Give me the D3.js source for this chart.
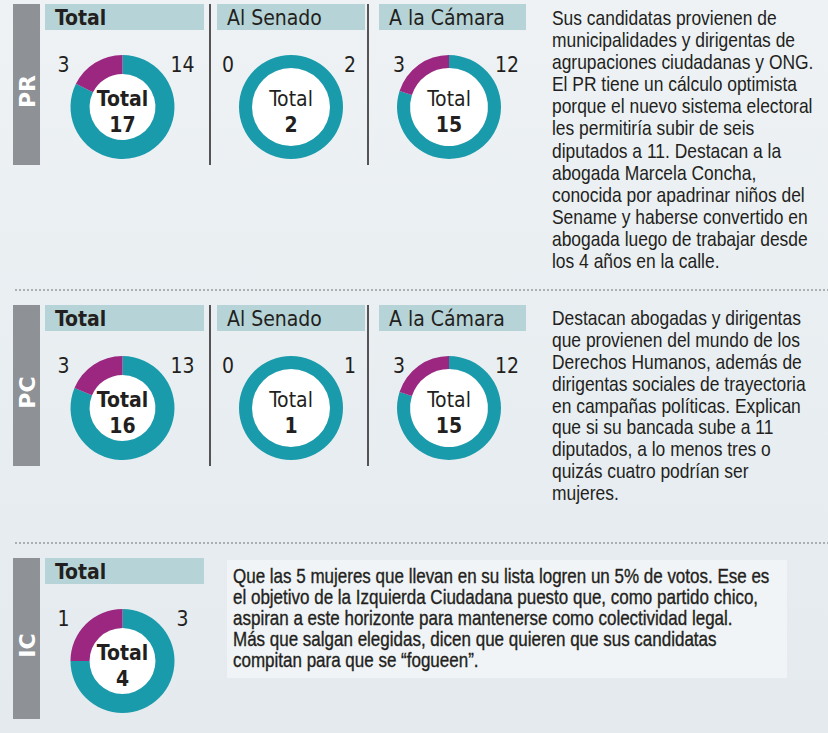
<!DOCTYPE html>
<html>
<head>
  <meta charset="utf-8">
  <title>Candidatas por partido</title>
  <script src="https://d3js.org/d3.v7.min.js"></script>
  <style>
    body { margin: 0; background: #e9eef2; }
    svg text { font-family: "DejaVu Sans Condensed", "DejaVu Sans", sans-serif; fill: #231f20; }
    svg text.para { font-family: "Liberation Sans", Arial, sans-serif; }
  </style>
</head>
<body>
<div id="output"></div>

<script type="text/javascript">

  // data
  var parties = ["PR", "PC", "IC"];
  var groups = ["Total", "Al Senado", "A la Cámara"];

  var prWomen = [3, 0, 3];
  var prMen = [14, 2, 12];
  var pcWomen = [3, 0, 3];
  var pcMen = [13, 1, 12];
  var icWomen = [1];
  var icMen = [3];

  var prText = [
    "Sus candidatas provienen de",
    "municipalidades y dirigentas de",
    "agrupaciones ciudadanas y ONG.",
    "El PR tiene un cálculo optimista",
    "porque el nuevo sistema electoral",
    "les permitiría subir de seis",
    "diputados a 11. Destacan a la",
    "abogada Marcela Concha,",
    "conocida por apadrinar niños del",
    "Sename y haberse convertido en",
    "abogada luego de trabajar desde",
    "los 4 años en la calle."
  ];
  var pcText = [
    "Destacan abogadas y dirigentas",
    "que provienen del mundo de los",
    "Derechos Humanos, además de",
    "dirigentas sociales de trayectoria",
    "en campañas políticas. Explican",
    "que si su bancada sube a 11",
    "diputados, a lo menos tres o",
    "quizás cuatro podrían ser",
    "mujeres."
  ];
  var icText = [
    "Que las 5 mujeres que llevan en su lista logren un 5% de votos. Ese es",
    "el objetivo de la Izquierda Ciudadana puesto que, como partido chico,",
    "aspiran a este horizonte para mantenerse como colectividad legal.",
    "Más que salgan elegidas, dicen que quieren que sus candidatas",
    "compitan para que se “fogueen”."
  ];

  var sections = [
    {party: parties[0], women: prWomen, men: prMen, text: prText},
    {party: parties[1], women: pcWomen, men: pcMen, text: pcText},
    {party: parties[2], women: icWomen, men: icMen, text: icText}
  ];

  // layout
  var w = 828, h = 733;
  var sectionTop = [4, 305, 558];
  var sectionH = 161;
  var colX = [45, 217, 379];
  var colW = [159, 148, 147];
  var colCx = [122.5, 291, 449];
  var leftOff = [-59, -63, -50];
  var rightOff = [60, 59, 58];
  var dividers = [210, 368];
  var separators = [290, 543];
  var narrow = 0.85;   // no condensed font installed, squeeze a regular one

  var teal = "#1a9bab", purple = "#9c2780";

  var color = d3.scaleOrdinal()
          .domain(["men", "women"])
          .range([teal, purple]);

  var pie = d3.pie()
          .sort(null)
          .value(function(d){ return d.value; });

  var svg = d3.select("#output").append("svg")
          .attr("width", w)
          .attr("height", h);

  var grad = svg.append("defs").append("linearGradient")
          .attr("id", "bg").attr("x1", 0).attr("y1", 0).attr("x2", 0).attr("y2", 1);
  grad.append("stop").attr("offset", 0).attr("stop-color", "#eef2f5");
  grad.append("stop").attr("offset", 1).attr("stop-color", "#e4eaee");

  svg.append("rect").attr("width", w).attr("height", h).attr("fill", "url(#bg)");

  // dotted separators
  svg.selectAll(".sep")
          .data(separators)
          .enter()
          .append("line")
          .attr("class", "sep")
          .attr("x1", 15).attr("x2", w)
          .attr("y1", function(d){ return d; })
          .attr("y2", function(d){ return d; })
          .attr("stroke", "#6f7275")
          .attr("stroke-width", 1)
          .attr("stroke-dasharray", "2,2");

  sections.forEach(function(s, si){
    var top = sectionTop[si];
    var g = svg.append("g").attr("transform", "translate(0," + top + ")");

    // party label bar
    g.append("rect")
            .attr("x", 13).attr("y", 0)
            .attr("width", 27).attr("height", sectionH)
            .attr("fill", "#8e9195");
    g.append("text")
            .attr("transform", "translate(35," + (sectionH / 2 + 7) + ") rotate(-90)")
            .attr("text-anchor", "middle")
            .style("font-family", "'DejaVu Sans', sans-serif")
            .style("font-weight", "bold")
            .style("font-size", "22px")
            .style("fill", "#fff")
            .text(s.party);

    // dividers between columns
    if (s.men.length > 1) {
      g.selectAll(".div")
              .data(dividers)
              .enter()
              .append("line")
              .attr("x1", function(d){ return d; })
              .attr("x2", function(d){ return d; })
              .attr("y1", 0).attr("y2", sectionH)
              .attr("stroke", "#231f20")
              .attr("stroke-width", 1.5);
    }

    s.men.forEach(function(m, ci){
      var wn = s.women[ci];
      var total = m + wn;
      var cx = colCx[ci], cy = 103;
      var isTotal = ci === 0;

      // header
      g.append("rect")
              .attr("x", colX[ci]).attr("y", 0)
              .attr("width", colW[ci]).attr("height", 26)
              .attr("fill", "#b6d4d7");
      g.append("text")
              .attr("x", colX[ci] + 10).attr("y", 21)
              .style("font-size", "21px")
              .style("font-weight", isTotal ? "bold" : "normal")
              .text(groups[ci]);

      // donut
      var arc = d3.arc()
              .outerRadius(52)
              .innerRadius(isTotal ? 33 : 39);

      var donut = g.append("g").attr("transform", "translate(" + cx + "," + cy + ")");
      donut.append("circle").attr("r", isTotal ? 33 : 39).attr("fill", "#fff");
      donut.selectAll(".slice")
              .data(pie([{key: "men", value: m}, {key: "women", value: wn}]))
              .enter()
              .append("path")
              .attr("class", "slice")
              .attr("d", arc)
              .attr("fill", function(d){ return color(d.data.key); });

      donut.append("text")
              .attr("y", -1)
              .attr("text-anchor", "middle")
              .style("font-size", "21px")
              .style("font-weight", isTotal ? "bold" : "normal")
              .text("Total");
      donut.append("text")
              .attr("y", 25)
              .attr("text-anchor", "middle")
              .style("font-size", "21px")
              .style("font-weight", "bold")
              .text(total);

      // women / men counts
      donut.append("text")
              .attr("x", leftOff[ci]).attr("y", -35)
              .attr("text-anchor", "middle")
              .style("font-size", "21px")
              .text(wn);
      donut.append("text")
              .attr("x", rightOff[ci]).attr("y", -35)
              .attr("text-anchor", "middle")
              .style("font-size", "21px")
              .text(m);
    });
  });

  // paragraphs, squeezed horizontally
  function paragraph(lines, x, y0, lh, size) {
    var t = svg.append("text")
            .attr("class", "para")
            .attr("transform", "translate(" + x + ",0) scale(" + narrow + ",1)")
            .style("font-size", size + "px");
    t.selectAll("tspan")
            .data(lines)
            .enter()
            .append("tspan")
            .attr("x", 0)
            .attr("y", function(d, i){ return y0 + i * lh; })
            .text(function(d){ return d; });
    return t;
  }

  paragraph(prText, 552, 25, 22.1, 20.5);
  paragraph(pcText, 552, 325, 21.9, 20.5);

  svg.append("rect")
          .attr("x", 227).attr("y", 560)
          .attr("width", 560).attr("height", 118)
          .attr("fill", "#f1f4f6");
  paragraph(icText, 233, 583, 21, 20)
          .style("stroke", "#231f20")
          .style("stroke-width", 0.35);

</script>
</body>
</html>
